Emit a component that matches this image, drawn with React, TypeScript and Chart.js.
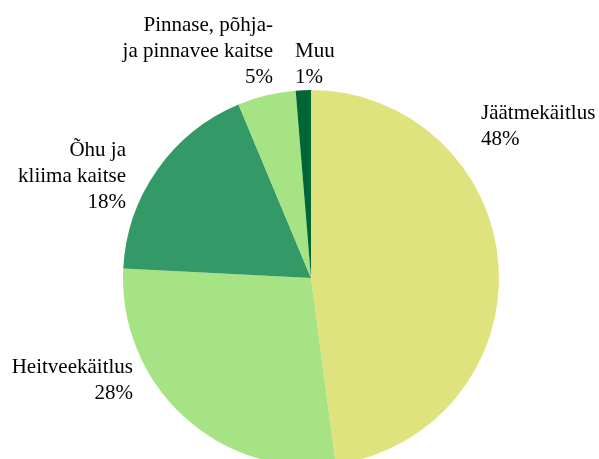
import React, { useEffect, useRef } from "react";
import { Chart, registerables } from "chart.js";
Chart.register(...registerables);

const categories: string[][] = [
  ["Jäätmekäitlus"],
  ["Heitveekäitlus"],
  ["Õhu ja", "kliima kaitse"],
  ["Pinnase, põhja-", "ja pinnavee kaitse"],
  ["Muu"],
];
const values = [47.9, 27.9, 17.9, 5.0, 1.3];
const colors = ["#DFE37D", "#A5E384", "#339966", "#A5E384", "#006633"];

// label layout (x anchor, baseline of first line, alignment)
const labelLayout: { x: number; y: number; align: CanvasTextAlign }[] = [
  { x: 481, y: 119, align: "left" },
  { x: 133, y: 373, align: "right" },
  { x: 126, y: 156, align: "right" },
  { x: 273, y: 31, align: "right" },
  { x: 295, y: 57, align: "left" },
];

const labelPlugin = {
  id: "outLabels",
  afterDraw(chart: any) {
    const ctx = chart.ctx;
    const data = chart.data.datasets[0].data as number[];
    const total = data.reduce((a, b) => a + b, 0);
    ctx.save();
    ctx.font = "21px 'Liberation Serif', 'Times New Roman', serif";
    ctx.fillStyle = "#000000";
    ctx.textBaseline = "alphabetic";
    categories.forEach((lines, i) => {
      const lay = labelLayout[i];
      const all = [...lines, Math.round((data[i] / total) * 100) + "%"];
      ctx.textAlign = lay.align;
      all.forEach((t, j) => ctx.fillText(t, lay.x, lay.y + j * 26));
    });
    ctx.restore();
  },
};

export default function App() {
  const ref = useRef<HTMLCanvasElement>(null);
  useEffect(() => {
    const chart = new Chart(ref.current!, {
      type: "pie",
      data: {
        labels: categories.map((c) => c.join(" ")),
        datasets: [
          {
            data: values,
            backgroundColor: colors,
            borderWidth: 0,
          },
        ],
      },
      options: {
        responsive: false,
        animation: false,
        layout: { padding: { left: 123, right: 100, top: 90, bottom: 34 } },
        plugins: { legend: { display: false }, tooltip: { enabled: false } },
      },
      plugins: [labelPlugin],
    });
    return () => chart.destroy();
  }, []);
  return (
    <div
      style={{
        position: "absolute",
        left: 0,
        top: 0,
        width: 599,
        height: 459,
        overflow: "hidden",
        background: "#ffffff",
      }}
    >
      <canvas ref={ref} width={599} height={500} style={{ display: "block" }} />
    </div>
  );
}
